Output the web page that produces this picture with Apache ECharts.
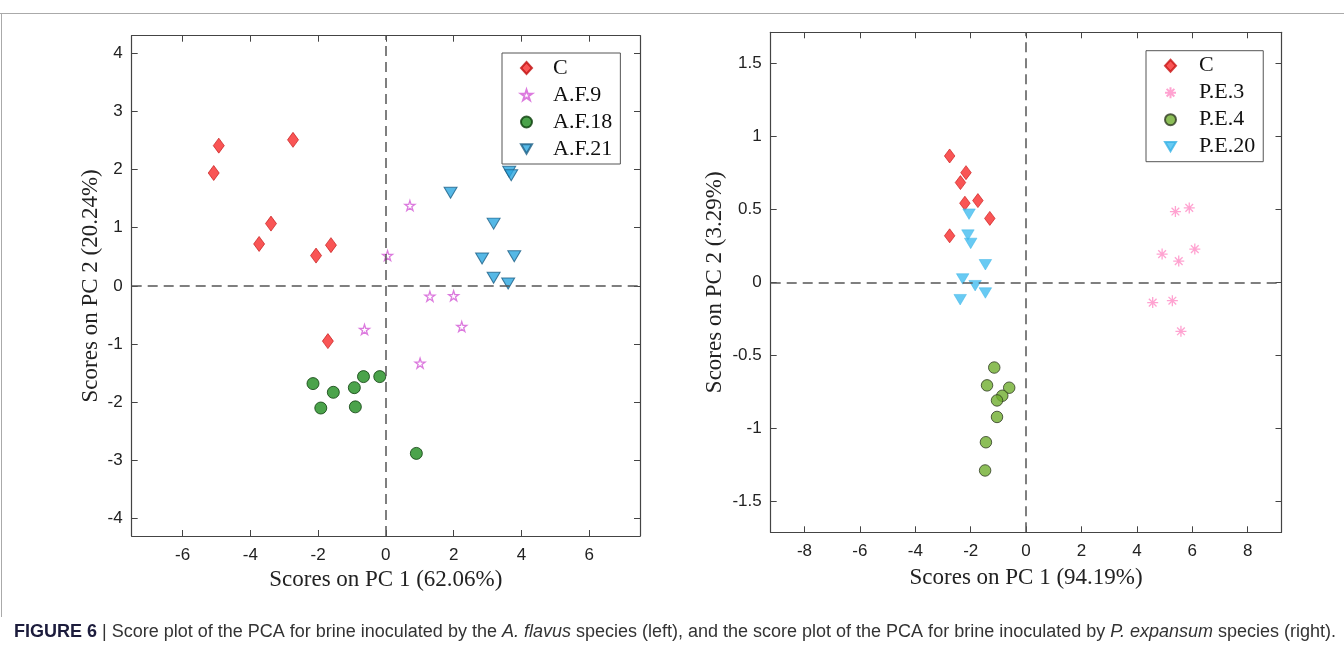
<!DOCTYPE html>
<html><head><meta charset="utf-8">
<script src="https://cdn.jsdelivr.net/npm/echarts@6/dist/echarts.min.js"></script>
<style>html,body{margin:0;padding:0;background:#fff}#c{width:1344px;height:658px}</style>
</head><body><div id="c"></div>
<script>
// ---- Left panel (A. flavus) data: [PC1, PC2]
const afC  = [[-5.08,1.94],[-4.93,2.41],[-2.74,2.51],[-3.39,1.07],[-3.74,0.72],[-2.06,0.52],[-1.62,0.70],[-1.71,-0.95]];
const af9  = [[0.05,0.52],[-0.63,-0.75],[0.71,1.38],[1.30,-0.18],[2.00,-0.17],[2.24,-0.70],[1.01,-1.33]];
const af18 = [[-2.15,-1.68],[-1.92,-2.10],[-1.55,-1.83],[-0.93,-1.75],[-0.90,-2.08],[-0.66,-1.56],[-0.18,-1.56],[0.90,-2.88]];
const af21 = [[3.64,1.96],[3.70,1.90],[1.91,1.60],[3.18,1.07],[2.84,0.47],[3.79,0.51],[3.18,0.14],[3.61,0.04]];
// ---- Right panel (P. expansum) data
const peC  = [[-2.76,0.864],[-2.17,0.750],[-2.37,0.682],[-2.21,0.541],[-1.74,0.559],[-1.31,0.437],[-2.76,0.318]];
const pe3  = [[5.39,0.484],[5.89,0.509],[4.91,0.193],[5.51,0.145],[6.09,0.227],[4.57,-0.139],[5.28,-0.126],[5.59,-0.335]];
const pe4  = [[-1.15,-0.583],[-1.41,-0.705],[-0.61,-0.721],[-0.86,-0.776],[-1.05,-0.808],[-1.05,-0.921],[-1.45,-1.094],[-1.48,-1.287]];
const pe20 = [[-2.06,0.466],[-2.10,0.323],[-2.00,0.266],[-1.47,0.120],[-2.29,0.023],[-1.84,-0.023],[-1.47,-0.073],[-2.38,-0.119]];
// ---- Tick labels
const leftXTicks  = [-6,-4,-2,0,2,4,6];
const leftYTicks  = [-4,-3,-2,-1,0,1,2,3,4];
const rightXTicks = [-8,-6,-4,-2,0,2,4,6,8];
const rightYTicks = [-1.5,-1,-0.5,0,0.5,1,1.5];
// ---- Names
const leftNames  = ['C','A.F.9','A.F.18','A.F.21'];
const rightNames = ['C ','P.E.3','P.E.4','P.E.20'];
const leftXTitle = 'Scores on PC 1 (62.06%)', leftYTitle = 'Scores on PC 2 (20.24%)';
const rightXTitle = 'Scores on PC 1 (94.19%)', rightYTitle = 'Scores on PC 2 (3.29%)';

const STAR = 'path://M50,0L61.2,34.5L97.6,34.5L68.2,55.9L79.4,90.5L50,69.1L20.6,90.5L31.8,55.9L2.4,34.5L38.8,34.5Z';
const AST  = 'path://M50,0L50,100M0,50L100,50M15,15L85,85M15,85L85,15';
const TRI_DOWN = 'path://M0,0L100,0L50,85Z';

const axisCol = '#444';
const tickFont = {fontFamily:'Liberation Sans', fontSize:17, color:'#222'};
const titleFont = {fontFamily:'Liberation Serif', fontSize:23, color:'#222'};

function xAxes(grid, min, max, ticks, title, gap){
  return [
    {type:'value', gridIndex:grid, position:'bottom', min, max,
     axisLine:{show:true, onZero:false, lineStyle:{color:axisCol, width:1.2}},
     axisTick:{show:true, inside:true, length:6, customValues:ticks, lineStyle:{color:axisCol}},
     axisLabel:{show:true, margin:11, customValues:ticks, ...tickFont},
     splitLine:{show:false},
     name:title, nameLocation:'middle', nameGap:gap, nameTextStyle:titleFont},
    {type:'value', gridIndex:grid, position:'top', min, max,
     axisLine:{show:true, onZero:false, lineStyle:{color:axisCol, width:1.2}},
     axisTick:{show:true, inside:true, length:6, customValues:ticks, lineStyle:{color:axisCol}},
     axisLabel:{show:false}, splitLine:{show:false}}
  ];
}
function yAxes(grid, min, max, ticks, title, gap){
  return [
    {type:'value', gridIndex:grid, position:'left', min, max,
     axisLine:{show:true, onZero:false, lineStyle:{color:axisCol, width:1.2}},
     axisTick:{show:true, inside:true, length:6, customValues:ticks, lineStyle:{color:axisCol}},
     axisLabel:{show:true, margin:9, customValues:ticks, ...tickFont},
     splitLine:{show:false},
     name:title, nameLocation:'middle', nameGap:gap, nameTextStyle:titleFont},
    {type:'value', gridIndex:grid, position:'right', min, max,
     axisLine:{show:true, onZero:false, lineStyle:{color:axisCol, width:1.2}},
     axisTick:{show:true, inside:true, length:6, customValues:ticks, lineStyle:{color:axisCol}},
     axisLabel:{show:false}, splitLine:{show:false}}
  ];
}
function zeroLines(){
  return {silent:true, symbol:'none', label:{show:false},
    lineStyle:{color:'#555', width:1.5, type:[10,6]},
    data:[{xAxis:0},{yAxis:0}]};
}
function sc(name, data, xi, yi, symbol, size, style, extra){
  return Object.assign({type:'scatter', name, data, xAxisIndex:xi, yAxisIndex:yi,
    symbol, symbolSize:size, itemStyle:style, z:3, emphasis:{disabled:true}}, extra||{});
}
function legendData(names){
  return names.map((n,i)=> i===3 ? {name:n, icon:TRI_DOWN} : {name:n});
}
const legendText = {fontFamily:'Liberation Serif', fontSize:22, color:'#111', padding:[0,0,0,16]};

const option = {
  animation:false,
  backgroundColor:'#fff',
  grid:[
    {left:131.7, top:35.7, width:508.3, height:500.3},
    {left:770.7, top:32.3, width:510.8, height:500}
  ],
  xAxis:[...xAxes(0,-7.5,7.5,leftXTicks,leftXTitle,32), ...xAxes(1,-9.22,9.22,rightXTicks,rightXTitle,34)],
  yAxis:[...yAxes(0,-4.3,4.3,leftYTicks,leftYTitle,29), ...yAxes(1,-1.71,1.71,rightYTicks,rightYTitle,44)],
  legend:[
    {data:legendData(leftNames), orient:'vertical', left:502, top:53, padding:[4,8,4,18],
     itemWidth:11, itemHeight:12, itemGap:5,
     borderColor:'#555', borderWidth:1, backgroundColor:'#fff', textStyle:legendText},
    {data:legendData(rightNames), orient:'vertical', left:1146, top:50.7, padding:[4,8,4,18],
     itemWidth:11, itemHeight:12, itemGap:5,
     borderColor:'#555', borderWidth:1, backgroundColor:'#fff',
     textStyle:Object.assign({}, legendText, {padding:[0,0,0,18]})}
  ],
  series:[
    sc(leftNames[0], afC, 0, 0, 'diamond', [11,15], {color:'#f72a2a', borderColor:'#c01010', borderWidth:0.8}, {markLine:zeroLines()}),
    sc(leftNames[1], af9, 0, 0, STAR, 10, {color:'rgba(0,0,0,0)', borderColor:'#d35ad6', borderWidth:1.3}),
    sc(leftNames[2], af18, 0, 0, 'circle', 12, {color:'#1e8c1e', borderColor:'#0b3d0b', borderWidth:1}),
    sc(leftNames[3], af21, 0, 0, 'triangle', [13,11], {color:'#2aa6e0', borderColor:'#1d5f86', borderWidth:1}, {symbolRotate:180}),
    sc(rightNames[0], peC, 2, 2, 'diamond', [10.5,14], {color:'#f72a2a', borderColor:'#c81515', borderWidth:0.8}, {markLine:zeroLines()}),
    sc(rightNames[1], pe3, 2, 2, AST, 11, {color:'rgba(0,0,0,0)', borderColor:'#ff8cc6', borderWidth:1.3}),
    sc(rightNames[2], pe4, 2, 2, 'circle', 11.5, {color:'#6fae2e', borderColor:'#2f3b22', borderWidth:1}),
    sc(rightNames[3], pe20, 2, 2, 'triangle', [12.5,10.5], {color:'#42bdf0', borderColor:'#3ab3e6', borderWidth:0.6}, {symbolRotate:180})
  ],
  graphic:[
    {type:'line', shape:{x1:0, y1:13.5, x2:1344, y2:13.5}, style:{stroke:'#aaa', lineWidth:1}, silent:true},
    {type:'line', shape:{x1:1.5, y1:13, x2:1.5, y2:617}, style:{stroke:'#aaa', lineWidth:1}, silent:true},
    {type:'text', left:14, top:623, silent:true,
     style:{
       text:'{b|FIGURE 6}{n| | Score plot of the PCA for brine inoculated by the }{i|A. flavus}{n| species (left), and the score plot of the PCA for brine inoculated by }{i|P. expansum}{n| species (right).}',
       rich:{
         b:{fontFamily:'Liberation Sans', fontSize:18, fontWeight:'bold', fill:'#1c1c3c'},
         n:{fontFamily:'Liberation Sans', fontSize:18, fill:'#333'},
         i:{fontFamily:'Liberation Sans', fontSize:18, fontStyle:'italic', fill:'#333'}
       }
     }}
  ]
};
const chart = echarts.init(document.getElementById('c'), null, {renderer:'canvas'});
chart.setOption(option);
</script>
</body></html>
